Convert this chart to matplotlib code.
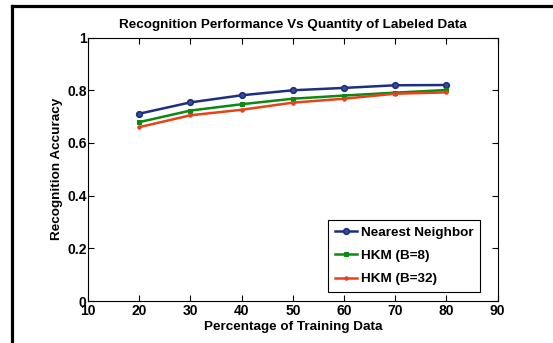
import numpy as np
import matplotlib
matplotlib.use("Agg")
import matplotlib.pyplot as plt
from matplotlib.lines import Line2D

plt.rcParams["font.family"] = ["Liberation Sans", "DejaVu Sans"]
plt.rcParams["font.weight"] = "bold"

# data
pct = [20, 30, 40, 50, 60, 70, 80]
nearest = [0.711, 0.754, 0.781, 0.800, 0.809, 0.819, 0.820]
hkm8 = [0.679, 0.723, 0.747, 0.768, 0.780, 0.791, 0.801]
hkm32 = [0.660, 0.705, 0.726, 0.753, 0.768, 0.787, 0.792]

fig = plt.figure(figsize=(5.53, 3.43), dpi=100)
ax = fig.add_axes([0.159, 0.1224, 0.741, 0.768])

ax.plot(pct, nearest, color="#1c2f80", lw=1.8, marker="o", ms=4,
        mfc="#3a4c9a", mew=1.2, label="Nearest Neighbor")
ax.plot(pct, hkm8, color="#0a8a12", lw=1.8, marker="s", ms=3.5,
        mew=0.8, label="HKM (B=8)")
ax.plot(pct, hkm32, color="#e8421c", lw=1.8, marker=".", ms=4.5,
        label="HKM (B=32)")

ax.set_xlim(10, 90)
ax.set_ylim(0, 1)
ax.set_xticks(np.arange(10, 91, 10))
ax.set_yticks([0, 0.2, 0.4, 0.6, 0.8, 1])
ax.set_yticklabels(["0", "0.2", "0.4", "0.6", "0.8", "1"])
ax.tick_params(direction="in", length=4, width=0.8, top=True, right=True,
               labelsize=10, pad=1)
ax.tick_params(axis="x", pad=2.5)
for lab in ax.get_xticklabels() + ax.get_yticklabels():
    lab.set_fontweight("bold")
for sp in ax.spines.values():
    sp.set_linewidth(0.8)

ax.set_title("Recognition Performance Vs Quantity of Labeled Data",
             fontsize=9.7, fontweight="bold", pad=7)
ax.set_xlabel("Percentage of Training Data", fontsize=9.7, fontweight="bold", labelpad=2)
ax.set_ylabel("Recognition Accuracy", fontsize=9.7, fontweight="bold", labelpad=3)

leg = ax.legend(loc="lower right", bbox_to_anchor=(0.957, 0.034),
                borderaxespad=0, fancybox=False, edgecolor="black", framealpha=1,
                prop={"weight": "bold", "size": 9.7}, handlelength=1.6,
                handletextpad=0.3, borderpad=0.5, labelspacing=0.8)
leg.get_frame().set_linewidth(0.8)

# black frame around the figure (cropped)
fig.add_artist(Line2D([11.5 / 553, 11.5 / 553], [0, 1 - 5.5 / 343],
                      transform=fig.transFigure, color="black", lw=2.3,
                      solid_capstyle="projecting"))
fig.add_artist(Line2D([11.5 / 553, 1], [1 - 5.5 / 343, 1 - 5.5 / 343],
                      transform=fig.transFigure, color="black", lw=2.3,
                      solid_capstyle="projecting"))

fig.savefig("out.png", dpi=100)
